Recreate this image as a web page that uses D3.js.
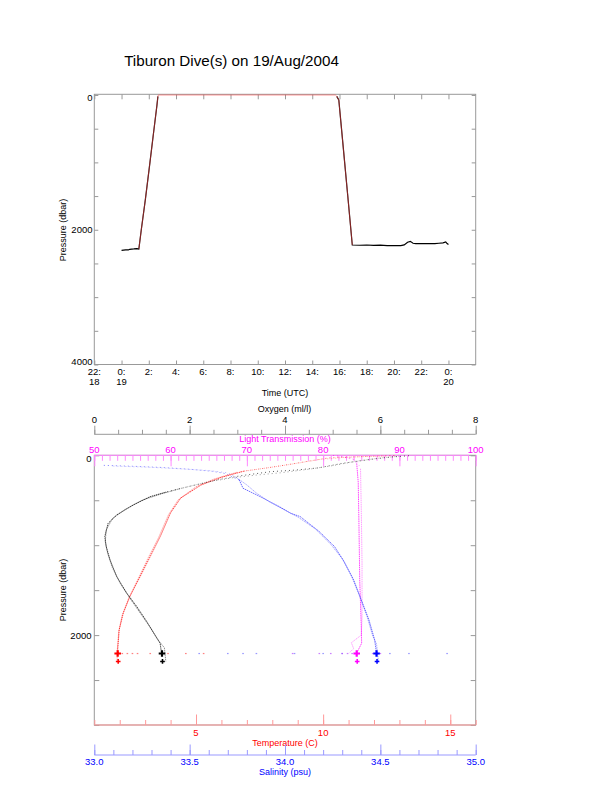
<!DOCTYPE html>
<html>
<head>
<meta charset="utf-8">
<script src="https://cdn.jsdelivr.net/npm/d3@7"></script>
<style>
body { margin: 0; background: #fff; }
svg text { font-family: "Liberation Sans", Arial, Helvetica, sans-serif; }
</style>
</head>
<body>
<svg id="chart" width="612" height="785"></svg>
<script>
// ---- dive track (hours after 0:00 on 19 Aug, pressure in dbar)
const diveHours = [0.0, 0.3, 0.5, 0.6, 0.9, 1.1, 1.27, 1.45, 1.75, 2.05, 2.35, 2.6, 2.67, 2.7,
  6.0, 10.0, 14.0, 15.7, 15.8, 15.95, 16.3, 16.6, 16.94,
  17.5, 18.0, 18.5, 19.0, 19.5, 20.0, 20.5, 20.75, 21.0, 21.2, 21.4, 21.6, 22.0, 22.5, 23.0, 23.3, 23.6, 23.8, 23.9, 24.0];
const divePressure = [2305, 2300, 2300, 2290, 2285, 2280, 2285, 2000, 1550, 1060, 560, 150, 20, 0,
  0, 0, 0, 0, 20, 74, 830, 1480, 2226,
  2230, 2226, 2232, 2228, 2236, 2236, 2236, 2225, 2185, 2172, 2200, 2205, 2205, 2205, 2205, 2200, 2195, 2180, 2205, 2220];

// ---- CTD casts: [value, pressure]
const tempCast1 = [[12.8, 4], [11.6, 14], [10.2, 30], [9.5, 62], [8.7, 100], [7.8, 140], [6.9, 175], [6.0, 245], [5.2, 330], [4.4, 475], [4.0, 640], [3.6, 900], [3.2, 1125], [2.8, 1350], [2.4, 1570], [2.14, 1755], [1.98, 1940], [1.92, 2160], [1.95, 2200]];
const tempCast2 = [[12.4, 8], [11.0, 20], [9.9, 45], [9.2, 78], [8.4, 115], [7.5, 152], [6.6, 190], [5.7, 265], [5.0, 350], [4.3, 495], [3.92, 660], [3.52, 920], [3.12, 1140], [2.74, 1365], [2.36, 1585], [2.1, 1775], [1.96, 1960], [1.9, 2180], [1.9, 2293]];
const oxyCast1 = [[6.6, 5], [6.2, 20], [5.8, 45], [5.2, 90], [4.7, 140], [4.2, 165], [3.7, 182], [3.1, 225], [2.57, 274], [2.0, 345], [1.5, 410], [1.17, 460], [0.82, 552], [0.47, 663], [0.29, 756], [0.22, 904], [0.25, 1016], [0.33, 1163], [0.47, 1349], [0.68, 1533], [0.89, 1682], [1.10, 1849], [1.31, 2033], [1.38, 2089], [1.41, 2200]];
const oxyCast2 = [[6.4, 10], [6.0, 30], [5.5, 65], [5.0, 115], [4.5, 155], [3.9, 195], [3.4, 220], [2.9, 250], [2.35, 300], [1.8, 370], [1.4, 430], [1.0, 500], [0.65, 600], [0.38, 705], [0.25, 830], [0.23, 960], [0.28, 1090], [0.38, 1250], [0.55, 1430], [0.76, 1600], [0.97, 1760], [1.18, 1920], [1.36, 2070], [1.47, 2140], [1.5, 2293]];
const salCast1 = [[33.05, 112], [33.2, 122], [33.35, 135], [33.5, 155], [33.62, 178], [33.68, 200], [33.76, 274], [33.78, 367], [33.87, 460], [33.97, 571], [34.03, 645], [34.08, 682], [34.18, 849], [34.26, 1016], [34.31, 1182], [34.36, 1386], [34.40, 1608], [34.44, 1830], [34.47, 2052], [34.48, 2200]];
const salCast2 = [[33.1, 120], [33.28, 132], [33.45, 150], [33.6, 170], [33.7, 195], [33.74, 240], [33.8, 330], [33.85, 420], [33.92, 520], [34.0, 610], [34.07, 690], [34.16, 820], [34.24, 990], [34.3, 1150], [34.35, 1350], [34.39, 1560], [34.43, 1790], [34.46, 2010], [34.48, 2100], [34.49, 2293]];
const ltCast1 = [[81.3, 2], [82.5, 15], [84.0, 45], [84.4, 90], [84.6, 300], [84.7, 800], [84.8, 1400], [85.0, 1900], [85.05, 2090], [84.4, 2200]];
const ltCast2 = [[82.0, 5], [83.5, 25], [84.5, 70], [84.9, 150], [85.0, 600], [85.1, 1200], [85.1, 1800], [85.0, 2000], [83.7, 2085], [84.0, 2150], [83.4, 2200]];

// spikes logged while sitting on the bottom (~2200 dbar)
const spikeTemp = [2.1, 2.3, 2.5, 2.7, 3.2, 3.9, 4.6, 5.3];
const spikeSal = [33.55, 33.7, 33.78, 33.85, 34.05, 34.2, 34.3, 34.38, 34.55, 34.65, 34.85];
const spikeLT = [76, 79.5, 81, 82.5, 83.2, 83.8, 86.5, 87.5];
const spikeP = 2205;
const bottomP = 2293;

// tick values
const timeStart = Date.UTC(2004, 7, 18, 22);
const timeEnd = Date.UTC(2004, 7, 20, 2);
const topPressureMajor = [0, 2000, 4000];
const topPressureMinor = d3.range(0, 4001, 500);
const botPressureMajor = [0, 2000];
const botPressureMinor = d3.range(0, 3001, 500);
const oxyMajor = [0, 2, 4, 6, 8];
const oxyMinor = d3.range(0, 8.01, 0.5);
const ltMajor = [50, 60, 70, 80, 90, 100];
const ltMinor = d3.range(50, 100.1, 1);
const tempMajor = [5, 10, 15];
const tempMinor = d3.range(1, 16.1, 1);
const salMajor = [33.0, 33.5, 34.0, 34.5, 35.0];
const salMinor = d3.range(33, 35.001, 0.1);

const svg = d3.select('#chart');
const L = 94.3, R = 475.7;
const FS = 9.5;   // tick labels
const TS = 9;     // axis titles

const hdate = h => new Date(Date.UTC(2004, 7, 19) + h * 3600e3);

// ---------- helpers
const tickRow = (axisFn, scale, vals, len, color, tx, ty) => {
    const g = svg.append('g').attr('transform', `translate(${tx},${ty})`)
      .call(axisFn(scale).tickValues(vals).tickSize(len).tickFormat(''));
    g.select('.domain').remove();
    g.selectAll('.tick line').attr('stroke', color).attr('stroke-width', 1);
    return g;
}

const hLabels = (scale, vals, y, fmt, color) => {
    svg.append('g').selectAll('text').data(vals).join('text')
      .attr('x', d => scale(d)).attr('y', y)
      .attr('text-anchor', 'middle').attr('font-size', FS).attr('fill', color)
      .text(fmt);
}

const text = (x, y, s, color, size, rot) => {
    const t = svg.append('text').attr('x', x).attr('y', y)
      .attr('text-anchor', 'middle').attr('font-size', size || TS).attr('fill', color || '#000')
      .text(s);
    if (rot) t.attr('transform', `rotate(-90,${x},${y})`);
    return t;
}

// ---------- title
text(231.5, 65.5, 'Tiburon Dive(s) on 19/Aug/2004', '#000', 15.2);

// ---------- top panel
const T1 = 94.3, B1 = 364.5;
const x1 = d3.scaleUtc().domain([timeStart, timeEnd]).range([L, R]);
const y1 = d3.scaleLinear().domain([0, 4000]).range([95, B1]);

svg.append('rect').attr('x', L).attr('y', T1).attr('width', R - L).attr('height', B1 - T1)
  .attr('fill', 'none').attr('stroke', '#999');

const timeTicks = d3.utcHour.every(2).range(new Date(timeStart), new Date(Date.UTC(2004, 7, 20, 0, 1)));
tickRow(d3.axisBottom, x1, timeTicks, 5, '#999', 0, T1);
tickRow(d3.axisTop, x1, timeTicks, 4, '#999', 0, B1);
tickRow(d3.axisRight, y1, topPressureMinor, 4, '#999', L, 0);
tickRow(d3.axisLeft, y1, topPressureMinor, 4, '#999', R, 0);

const tl = svg.append('g').selectAll('g').data(timeTicks).join('g')
  .attr('transform', d => `translate(${x1(d)},0)`);
tl.append('text').attr('y', 374.8).attr('text-anchor', 'middle').attr('font-size', FS)
  .text(d => d.getUTCHours() + ':');
tl.filter(d => d.getUTCHours() === 0 || d.getTime() === timeStart).append('text')
  .attr('y', 384.8).attr('text-anchor', 'middle').attr('font-size', FS)
  .text(d => d.getUTCDate());
text(285, 396.3, 'Time (UTC)');

svg.append('g').selectAll('text').data(topPressureMajor).join('text')
  .attr('x', 92.5).attr('y', d => Math.min(Math.max(y1(d), T1 + 3.5), B1 - 3) + 3.4)
  .attr('text-anchor', 'end').attr('font-size', FS).text(d => d);
text(65.5, 230, 'Pressure (dbar)', '#000', TS, true);

const diveData = diveHours.map((h, i) => ({t: hdate(h), h: h, p: divePressure[i]}));
svg.append('path').datum(diveData)
  .attr('d', d3.line().x(d => x1(d.t)).y(d => y1(d.p)).defined(d => d.p > 1))
  .attr('fill', 'none').attr('stroke', '#000').attr('stroke-width', 1.2);
svg.append('path').datum(diveData)
  .attr('d', d3.line().x(d => x1(d.t)).y(d => y1(d.p)).defined(d => d.h >= 1.27 && d.h <= 16.94))
  .attr('fill', 'none').attr('stroke', '#f44').attr('stroke-width', 1).attr('stroke-opacity', 0.55);

// ---------- bottom panel
const T2 = 455.3, B2 = 725;
const y2 = d3.scaleLinear().domain([0, 3000]).range([T2, B2]);
const xT = d3.scaleLinear().domain([1, 16]).range([L, R]);
const xS = d3.scaleLinear().domain([33, 35]).range([L, R]);
const xO = d3.scaleLinear().domain([0, 8]).range([L, R]);
const xL = d3.scaleLinear().domain([50, 100]).range([L, R]);

svg.append('rect').attr('x', L).attr('y', T2).attr('width', R - L).attr('height', B2 - T2)
  .attr('fill', 'none').attr('stroke', '#999');
tickRow(d3.axisRight, y2, botPressureMinor, 5, '#999', L, 0);
tickRow(d3.axisLeft, y2, botPressureMinor, 5, '#999', R, 0);
svg.append('g').selectAll('text').data(botPressureMajor).join('text')
  .attr('x', 91.5).attr('y', d => Math.max(y2(d), T2 + 3.5) + 3.4)
  .attr('text-anchor', 'end').attr('font-size', FS).text(d => d);
text(65.5, 590, 'Pressure (dbar)', '#000', TS, true);

// oxygen axis (above)
const OY = 434.3;
svg.append('line').attr('x1', L).attr('x2', R).attr('y1', OY).attr('y2', OY).attr('stroke', '#999');
tickRow(d3.axisTop, xO, oxyMinor, 4.5, '#999', 0, OY);
tickRow(d3.axisTop, xO, oxyMajor, 8.6, '#999', 0, OY);
hLabels(xO, oxyMajor, 422.8, d => d, '#000');
text(284.5, 412, 'Oxygen (ml/l)');

// light transmission axis (frame top)
svg.append('line').attr('x1', L).attr('x2', R - 7).attr('y1', T2).attr('y2', T2).attr('stroke', '#f8f');
tickRow(d3.axisBottom, xL, ltMinor, 5.5, '#f8f', 0, T2);
tickRow(d3.axisBottom, xL, ltMajor, 11, '#f8f', 0, T2);
hLabels(xL, ltMajor, 452.6, d => d, '#f0f');
text(285, 442, 'Light Transmission (%)', '#f0f');

// temperature axis (frame bottom)
svg.append('line').attr('x1', L).attr('x2', R).attr('y1', B2).attr('y2', B2).attr('stroke', '#f99');
tickRow(d3.axisTop, xT, tempMinor, 5, '#f99', 0, B2);
tickRow(d3.axisTop, xT, tempMajor, 10.5, '#f99', 0, B2);
hLabels(xT, tempMajor, 736, d => d, '#f00');
text(285, 746, 'Temperature (C)', '#f00');

// salinity axis (below)
const SY = 755;
svg.append('line').attr('x1', L).attr('x2', R).attr('y1', SY).attr('y2', SY).attr('stroke', '#99f');
tickRow(d3.axisTop, xS, salMinor, 5, '#99f', 0, SY);
tickRow(d3.axisTop, xS, salMajor, 10.5, '#99f', 0, SY);
hLabels(xS, salMajor, 765.3, d3.format('.1f'), '#00f');
text(285, 775.3, 'Salinity (psu)', '#00f');

// profiles: sparse dots in the shallow part, dense dots below
const profile = (data, xs, color, op, split) => {
    const line = d3.line().x(d => xs(d[0])).y(d => y2(d[1]));
    const k = data.findIndex(d => d[1] >= split);
    svg.append('path').datum(data.slice(0, k + 1))
      .attr('d', line)
      .attr('fill', 'none').attr('stroke', color).attr('stroke-width', 1)
      .attr('stroke-dasharray', '1,3').attr('stroke-opacity', op * 0.8);
    svg.append('path').datum(data.slice(k))
      .attr('d', line)
      .attr('fill', 'none').attr('stroke', color).attr('stroke-width', 0.9)
      .attr('stroke-dasharray', '1.5,0.7').attr('stroke-opacity', op);
}
profile(ltCast2, xL, '#f6f', 0.7, 90);
profile(ltCast1, xL, '#f0f', 0.8, 90);
profile(salCast2, xS, '#77f', 0.7, 240);
profile(salCast1, xS, '#33f', 0.8, 274);
profile(tempCast2, xT, '#f66', 0.7, 190);
profile(tempCast1, xT, '#f00', 0.8, 175);
profile(oxyCast2, xO, '#666', 0.8, 370);
profile(oxyCast1, xO, '#000', 0.8, 410);

const spikes = (vals, xs, color) => {
    svg.append('g').selectAll('rect').data(vals).join('rect')
      .attr('x', d => xs(d) - 0.8).attr('y', y2(spikeP) - 0.6)
      .attr('width', 1.6).attr('height', 1.2).attr('fill', color).attr('opacity', 0.75);
}
spikes(spikeTemp, xT, '#f55');
spikes(spikeSal, xS, '#77f');
spikes(spikeLT, xL, '#b5f');

// bottom marks (blobs on the sea floor and the deepest cross)
const marks = [
    [xT(1.92), '#f00'], [xL(84.4), '#f0f'], [xS(34.48), '#00f'], [xO(1.42), '#000']
];
svg.append('g').selectAll('path').data(marks).join('path')
  .attr('transform', d => `translate(${d[0]},${y2(spikeP)})`)
  .attr('d', d3.symbol().type(d3.symbolCross).size(24)).attr('fill', d => d[1]);
svg.append('g').selectAll('path').data(marks).join('path')
  .attr('transform', d => `translate(${d[0] + 0.5},${y2(bottomP)})`)
  .attr('d', d3.symbol().type(d3.symbolCross).size(12)).attr('fill', d => d[1]);
</script>
</body>
</html>
